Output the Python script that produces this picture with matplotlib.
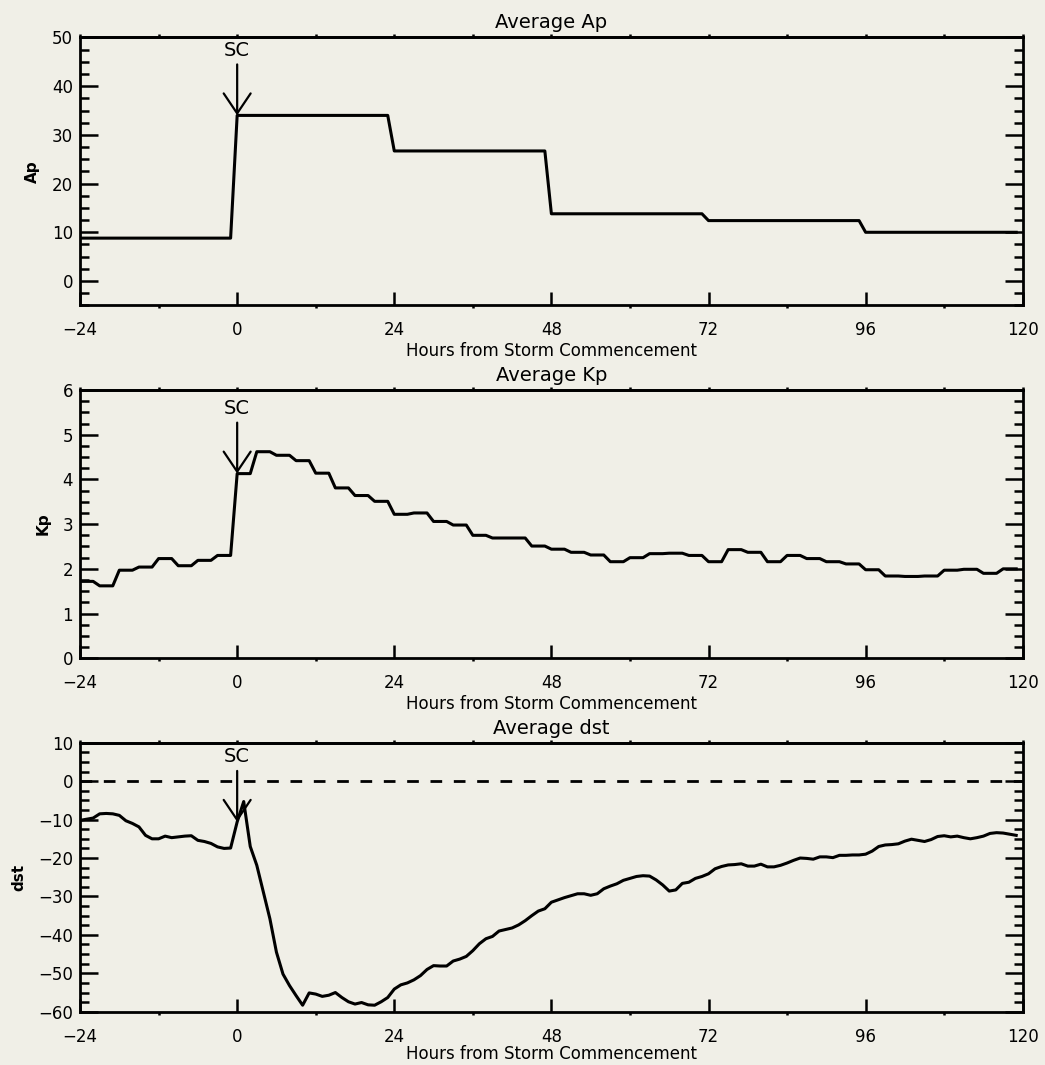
"""Storm-commencement superposed epoch averages: Ap, Kp and Dst."""
import matplotlib
matplotlib.use("Agg")
import matplotlib.pyplot as plt
from matplotlib.ticker import MultipleLocator
import numpy as np

BG = "#f0efe7"

# hours relative to storm commencement (hourly samples)
hours = np.arange(-24, 120)

# daily Ap, one value per day starting at -24 h
ap_daily = [8.8, 34.0, 26.7, 13.8, 12.4, 10.0]

# 3-hourly Kp starting at -24 h
kp_3hourly = [1.72, 1.62, 1.97, 2.04, 2.23, 2.07, 2.19, 2.30,
              4.13, 4.62, 4.54, 4.42, 4.14, 3.81, 3.64, 3.51,
              3.22, 3.25, 3.06, 2.98, 2.75, 2.69, 2.69, 2.51,
              2.44, 2.37, 2.31, 2.16, 2.25, 2.34, 2.35, 2.30,
              2.16, 2.43, 2.37, 2.16, 2.30, 2.23, 2.16, 2.11,
              1.98, 1.84, 1.83, 1.84, 1.97, 1.99, 1.90, 2.00]

# hourly Dst from -24 h to 119 h
dst_hourly = [-10.2, -9.9, -9.6, -8.5, -8.4, -8.5, -8.9, -10.3,
              -11.0, -11.9, -14.1, -15.0, -15.0, -14.3, -14.7, -14.5,
              -14.3, -14.2, -15.4, -15.7, -16.2, -17.1, -17.5, -17.4,
              -10.6, -5.3, -17.0, -21.9, -28.9, -35.8, -44.5, -50.2,
              -53.2, -55.8, -58.3, -55.1, -55.4, -56.0, -55.7, -55.0,
              -56.3, -57.4, -58.0, -57.6, -58.2, -58.3, -57.4, -56.3,
              -54.1, -53.0, -52.5, -51.7, -50.6, -49.0, -48.0, -48.1,
              -48.1, -46.8, -46.3, -45.6, -44.1, -42.3, -41.0, -40.4,
              -39.0, -38.6, -38.2, -37.4, -36.3, -35.0, -33.8, -33.2,
              -31.5, -30.9, -30.3, -29.8, -29.3, -29.3, -29.7, -29.3,
              -28.0, -27.3, -26.7, -25.8, -25.3, -24.8, -24.6, -24.7,
              -25.7, -27.0, -28.6, -28.3, -26.6, -26.3, -25.3, -24.8,
              -24.1, -22.8, -22.2, -21.8, -21.7, -21.5, -22.1, -22.1,
              -21.6, -22.3, -22.3, -21.9, -21.3, -20.6, -20.0, -20.1,
              -20.3, -19.7, -19.7, -19.9, -19.3, -19.3, -19.2, -19.2,
              -19.0, -18.2, -17.0, -16.6, -16.5, -16.3, -15.6, -15.1,
              -15.4, -15.7, -15.2, -14.4, -14.2, -14.5, -14.3, -14.7,
              -15.0, -14.7, -14.3, -13.6, -13.4, -13.5, -13.8, -14.1]

ap = np.repeat(ap_daily, 24)
kp = np.repeat(kp_3hourly, 3)
dst = np.array(dst_hourly)

panels = [
    ("Average Ap", "Ap", ap, (-5, 50), 10, 2.5),
    ("Average Kp", "Kp", kp, (0, 6), 1, 0.25),
    ("Average dst", "dst", dst, (-60, 10), 10, 2.5),
]
boxes = [
    (0.0766, 0.7133, 0.9021, 0.2515),
    (0.0766, 0.3819, 0.9021, 0.2519),
    (0.0766, 0.0500, 0.9021, 0.2526),
]

fig = plt.figure(figsize=(10.45, 10.65), dpi=100, facecolor=BG)

for i, ((title, ylabel, y, ylim, major, minor), box) in enumerate(zip(panels, boxes)):
    ax = fig.add_axes(box, facecolor=BG)
    ax.plot(hours, y, color="k", lw=2.2)
    if ylabel == "dst":
        ax.axhline(0, color="k", lw=2, linestyle=(0, (4.2, 4.2)))

    ax.set_xlim(-24, 120)
    ax.set_ylim(*ylim)
    ax.xaxis.set_major_locator(MultipleLocator(24))
    ax.xaxis.set_minor_locator(MultipleLocator(12))
    ax.yaxis.set_major_locator(MultipleLocator(major))
    ax.yaxis.set_minor_locator(MultipleLocator(minor))

    ax.tick_params(axis="x", which="major", direction="in", length=9.4,
                   width=1.8, top=False, labelsize=12, pad=11.5)
    ax.tick_params(axis="x", which="minor", direction="out", length=2.5,
                   width=1.8, top=False)
    ax.tick_params(axis="y", which="major", direction="in", length=13,
                   width=1.8, left=True, right=True, labelsize=12, pad=5)
    ax.tick_params(axis="y", which="minor", direction="in", length=6.5,
                   width=1.8, left=True, right=True)
    for sp in ax.spines.values():
        sp.set_linewidth(2)

    top = ax.secondary_xaxis("top")
    top.set_xticks(np.arange(-24, 121, 12))
    top.tick_params(direction="out", length=2.5, width=1.8, labeltop=False)
    top.spines["top"].set_linewidth(2)

    # SC marker at storm commencement
    y0 = y[hours == 0][0]
    ax.annotate("", xy=(0, y0), xytext=(0, 36.7), textcoords="offset points",
                arrowprops=dict(arrowstyle="->,head_length=14.4,head_width=9.7",
                                mutation_scale=1, lw=1.6, color="k",
                                shrinkA=0, shrinkB=0))
    ax.annotate("SC", xy=(0, y0), xytext=(0, 46.8), textcoords="offset points",
                ha="center", va="center", fontsize=14)

    ax.set_title(title, fontsize=14, pad=6.5)
    ax.set_xlabel("Hours from Storm Commencement", fontsize=12,
                  labelpad=2 if i < 2 else -0.5)
    ax.set_ylabel(ylabel, fontsize=11, fontweight="bold", labelpad=8.5)

fig.savefig("out.png", dpi=100, facecolor=BG)
